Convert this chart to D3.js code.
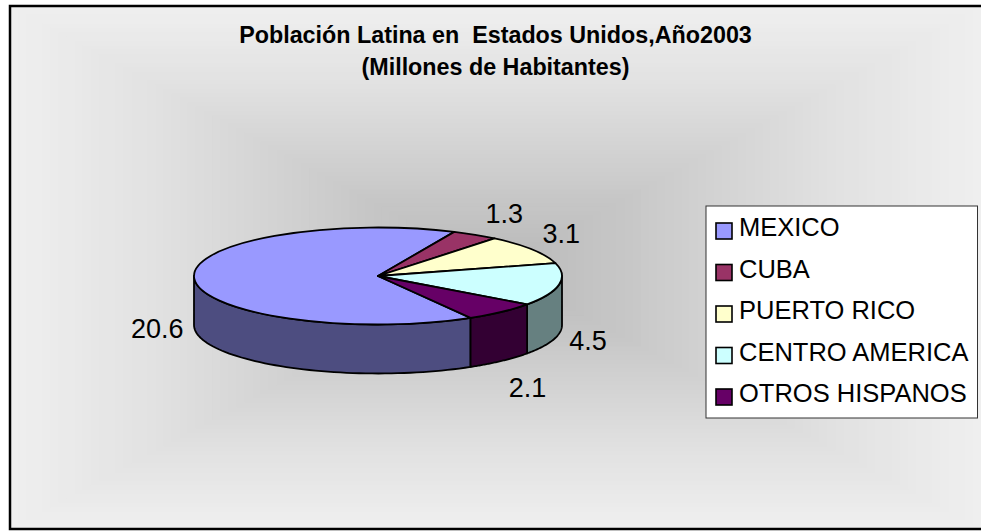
<!DOCTYPE html>
<html>
<head>
<meta charset="utf-8">
<script src="https://cdn.jsdelivr.net/npm/d3@7"></script>
<style>
  html, body { margin: 0; padding: 0; background: #fff; }
  svg { display: block; font-family: "Liberation Sans", Arial, sans-serif; }
</style>
</head>
<body>
<div class="chart"></div>
<script>
// Data
const categories = ["MEXICO", "CUBA", "PUERTO RICO", "CENTRO AMERICA", "OTROS HISPANOS"];
const values = [20.6, 1.3, 3.1, 4.5, 2.1];
const valueLabels = ["20.6", "1.3", "3.1", "4.5", "2.1"];
const colors = ["#9999ff", "#993366", "#ffffcc", "#ccffff", "#660066"];
const titleLines = ["Población Latina en  Estados Unidos,Año2003", "(Millones de Habitantes)"];

// Mesures
const size = { width: 981, height: 531 };
const frame = { left: 10, top: 6, right: 981, bottom: 529 };
const pieBox = { cx: 378, cy: 276, rx: 184, ry: 48.5, depth: 49 };
const legendBox = { x: 706, y: 206, width: 271.5, height: 212 };
const labelNudge = [[-37, 60], [29, -12], [29, -7], [29, 65], [26, 85]];

const svg = d3.select(".chart")
  .append("svg")
  .attr("width", size.width)
  .attr("height", size.height);

// background: grey square gradient, darker in the middle
const bandCount = 60;
const bandColor = d3.scaleLinear()
  .domain([0, 0.32, 0.74, 1])
  .range(["#efefef", "#e0e0e0", "#c6c6c6", "#b8b8b8"]);
const midX = 495, midY = 268;
svg.append("g").selectAll("rect")
  .data(d3.range(bandCount))
  .join("rect")
  .attr("x", d => frame.left + (midX - frame.left) * d / bandCount)
  .attr("y", d => frame.top + (midY - frame.top) * d / bandCount)
  .attr("width", d => (frame.right - frame.left) * (1 - d / bandCount))
  .attr("height", d => (frame.bottom - frame.top) * (1 - d / bandCount))
  .attr("fill", d => bandColor(d / bandCount));

// frame
svg.append("path")
  .attr("d", `M${frame.right},${frame.top}H${frame.left}V${frame.bottom}H${frame.right}`)
  .attr("fill", "none")
  .attr("stroke", "#000")
  .attr("stroke-width", 2.5);

// title
svg.append("g").selectAll("text")
  .data(titleLines)
  .join("text")
  .attr("x", 495.5)
  .attr("y", (d, i) => 43 + i * 32)
  .attr("text-anchor", "middle")
  .attr("font-weight", "bold")
  .attr("font-size", 23.3)
  .style("white-space", "pre")
  .text(d => d);

// pie
const pie = d3.pie().sort(null)
  .startAngle(149.8 * Math.PI / 180)
  .endAngle((149.8 + 360) * Math.PI / 180);
const arcs = pie(values);

const px = a => pieBox.cx + pieBox.rx * Math.sin(a);
const py = a => pieBox.cy - pieBox.ry * Math.cos(a);

// walls, only the front half of the rim shows
const wallPath = (d) => {
  const segs = [];
  [0, 2 * Math.PI].forEach(turn => {
    const a0 = Math.max(d.startAngle, Math.PI / 2 + turn);
    const a1 = Math.min(d.endAngle, 3 * Math.PI / 2 + turn);
    if (a1 > a0) {
      const steps = d3.range(0, 61).map(i => a0 + (a1 - a0) * i / 60);
      const top = steps.map(a => [px(a), py(a)]);
      const bottom = steps.slice().reverse().map(a => [px(a), py(a) + pieBox.depth]);
      segs.push(d3.line()(top.concat(bottom)) + "Z");
    }
  });
  return segs.join("");
};

const halfColor = (c) => {
  const rgb = d3.rgb(c);
  return d3.rgb(rgb.r / 2, rgb.g / 2, rgb.b / 2);
};

const pieG = svg.append("g").attr("stroke", "#000").attr("stroke-width", 1.8).attr("stroke-linejoin", "round");

pieG.append("g").selectAll("path")
  .data(arcs)
  .join("path")
  .attr("d", wallPath)
  .attr("fill", (d, i) => halfColor(colors[i]));

const arcGen = d3.arc().innerRadius(0).outerRadius(pieBox.rx);
pieG.append("g")
  .attr("transform", `translate(${pieBox.cx},${pieBox.cy}) scale(1,${pieBox.ry / pieBox.rx})`)
  .selectAll("path")
  .data(arcs)
  .join("path")
  .attr("d", arcGen)
  .attr("vector-effect", "non-scaling-stroke")
  .attr("fill", (d, i) => colors[i]);

// value labels
svg.append("g").selectAll("text")
  .data(arcs)
  .join("text")
  .attr("x", (d, i) => px((d.startAngle + d.endAngle) / 2) + labelNudge[i][0])
  .attr("y", (d, i) => py((d.startAngle + d.endAngle) / 2) + labelNudge[i][1])
  .attr("text-anchor", "middle")
  .attr("font-size", 27)
  .text((d, i) => valueLabels[i]);

// legend
const legend = svg.append("g");
legend.append("rect")
  .attr("x", legendBox.x).attr("y", legendBox.y)
  .attr("width", legendBox.width).attr("height", legendBox.height)
  .attr("fill", "#fff").attr("stroke", "#333").attr("stroke-width", 1);

const legendY = d3.scalePoint()
  .domain(categories)
  .range([legendBox.y + 25, legendBox.y + 191]);

legend.selectAll("rect.key")
  .data(categories)
  .join("rect")
  .attr("class", "key")
  .attr("x", 716)
  .attr("y", d => legendY(d) - 8)
  .attr("width", 16)
  .attr("height", 16)
  .attr("fill", (d, i) => colors[i])
  .attr("stroke", "#000")
  .attr("stroke-width", 1.6);

legend.selectAll("text.name")
  .data(categories)
  .join("text")
  .attr("class", "name")
  .attr("x", 739)
  .attr("y", d => legendY(d) + 5)
  .attr("font-size", 25.5)
  .text(d => d);
</script>
</body>
</html>
